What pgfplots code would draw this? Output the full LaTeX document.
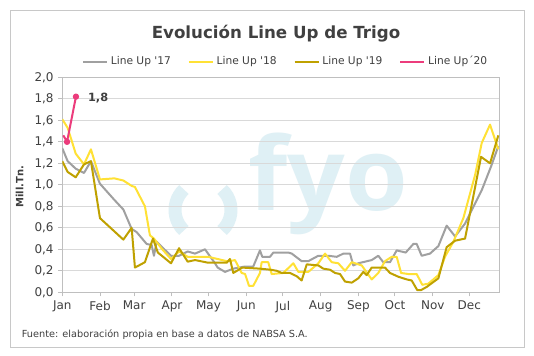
\documentclass[border=0pt]{standalone}
\usepackage{fontspec}
\setmainfont{DejaVu Sans}[Ligatures=TeXOff]
\newfontfamily\wmfont{Open Sans}
\usepackage{pgfplots}
\pgfplotsset{compat=1.18}
\definecolor{c17}{HTML}{A0A0A0}
\definecolor{c18}{HTML}{FFE135}
\definecolor{c19}{HTML}{BFA100}
\definecolor{c20}{HTML}{EC3C7C}
\definecolor{textgray}{HTML}{404040}
\definecolor{boxgray}{HTML}{BFBFBF}
\definecolor{gridgray}{HTML}{D9D9D9}
\definecolor{framegray}{HTML}{C8C8C8}
\definecolor{wm}{HTML}{DFF0F5}
\pgfplotsset{
  mylegimg/.style={legend image code/.code={\draw[##1,line width=1.5pt] (0pt,0pt) -- (18pt,0pt);}}
}
\begin{document}
\begin{tikzpicture}[x=0.75pt,y=0.75pt]
\path[use as bounding box] (0,0) rectangle (534,355);
\fill[white] (0,0) rectangle (534,355);
\draw[framegray, line width=0.75pt] (10,8) rectangle (524,345);
% watermark
\draw[wm, line width=9.75pt] (203,145) ++(133:28) arc[start angle=133, end angle=227, radius=28];
\draw[wm, line width=9.75pt] (203,145) ++(-47:28) arc[start angle=-47, end angle=47, radius=28];
\node[anchor=base west, inner sep=0pt, text=wm, font=\wmfont\bfseries\fontsize{76}{76}\selectfont] at (248,145) {fyo};
\begin{axis}[
  at={(46.725pt,47.025pt)}, anchor=south west,
  width=327.75pt, height=161.25pt, scale only axis,
  xmin=0, xmax=358.6, ymin=0, ymax=2,
  xtick={0,31,59,90,120,151,181,212,243,273,304,334},
  xticklabels={Jan,Feb,Mar,Apr,May,Jun,Jul,Aug,Sep,Oct,Nov,Dec},
  ytick={0,0.2,0.4,0.6,0.8,1,1.2,1.4,1.6,1.8,2},
  /pgf/number format/.cd, fixed, fixed zerofill, precision=1, use comma, assume math mode=true,
  /pgfplots/.cd,
  tick pos=left, tick align=outside, major tick length=3pt,
  tick style={draw=boxgray, line width=0.75pt},
  axis line style={draw=boxgray, line width=0.75pt},
  ymajorgrids, grid style={draw=gridgray, line width=0.75pt},
  ticklabel style={font=\fontsize{9}{10}\selectfont, text=textgray},
  mylegimg,
  legend columns=4,
  legend style={at={(0.512,1.073)}, anchor=center, draw=none, fill=none,
    font=\fontsize{8}{9}\selectfont, text=textgray, inner sep=0pt,
    /tikz/every even column/.append style={column sep=10.75pt}},
]
\addplot[c17, line width=1.5pt, line join=round] coordinates {
(0,1.34)(4.4,1.22)(11,1.15)(17.8,1.11)(23.5,1.22)(30.9,1.01)(42.7,0.86)(50.1,0.77)(56.9,0.59)(61,0.56)(69.2,0.45)(73.3,0.44)(75.2,0.34)(77.4,0.47)(89.2,0.34)(95.8,0.34)(102.9,0.38)(108.9,0.36)(117.1,0.40)(125.3,0.27)(127.5,0.23)(133.5,0.19)(140.3,0.22)(149.9,0.24)(156.7,0.24)(162.2,0.39)(164.1,0.33)(170.4,0.33)(173.2,0.37)(185.5,0.37)(188.3,0.36)(196.4,0.29)(201.9,0.29)(210.1,0.34)(218.3,0.34)(225.2,0.33)(230.6,0.36)(236.1,0.36)(238.8,0.25)(242.9,0.27)(253.9,0.30)(259.3,0.34)(263.4,0.28)(268.9,0.28)(274.4,0.39)(281.8,0.37)(288.1,0.45)(290.8,0.45)(294.9,0.34)(301.7,0.36)(308.6,0.43)(315.4,0.62)(322.3,0.52)(330.5,0.64)(344.2,0.95)(351.8,1.17)(357.8,1.36)
};
\addlegendentry{Line Up '17}
\addplot[c18, line width=1.5pt, line join=round] coordinates {
(0,1.61)(4.4,1.53)(11,1.29)(17.8,1.19)(23.5,1.33)(30.9,1.05)(42.7,1.06)(50.1,1.04)(56.9,0.99)(59.6,0.98)(67.8,0.80)(71.9,0.53)(75.2,0.50)(82,0.40)(89.2,0.31)(95.8,0.38)(102.9,0.33)(119.8,0.33)(134.9,0.29)(137.6,0.29)(141.7,0.30)(147.2,0.18)(150,0.17)(153.2,0.06)(156.7,0.06)(162.2,0.18)(163.6,0.28)(169,0.28)(171.8,0.17)(181.3,0.18)(189.6,0.27)(193.7,0.19)(201.9,0.19)(210.1,0.27)(215.6,0.36)(221.1,0.28)(226.5,0.27)(232,0.20)(237.5,0.28)(245.7,0.25)(253.9,0.12)(259.3,0.18)(264.8,0.29)(270.3,0.33)(274.4,0.33)(278,0.18)(284,0.17)(290.8,0.17)(295.4,0.07)(300.3,0.08)(308.6,0.16)(314,0.33)(320.9,0.47)(329.1,0.69)(338.7,1.09)(344.2,1.39)(351,1.56)(357.8,1.33)
};
\addlegendentry{Line Up '18}
\addplot[c19, line width=1.5pt, line join=round] coordinates {
(0,1.22)(4.4,1.12)(11,1.07)(17.8,1.19)(23.5,1.22)(30.9,0.69)(50.1,0.49)(56.9,0.60)(59.6,0.23)(67.8,0.28)(74.4,0.50)(78.4,0.37)(89.2,0.27)(95.8,0.41)(102.9,0.285)(108.9,0.30)(119.8,0.275)(134.9,0.275)(137.6,0.31)(140.3,0.18)(147.7,0.23)(162.2,0.22)(171,0.21)(176,0.20)(180,0.18)(186.8,0.18)(192.3,0.15)(196.4,0.11)(200.6,0.26)(210.1,0.25)(214.2,0.22)(219.7,0.21)(223.8,0.18)(227.9,0.17)(232,0.10)(237.5,0.09)(242.9,0.13)(247,0.19)(249.8,0.16)(253.9,0.23)(264.8,0.23)(268.9,0.18)(275.7,0.145)(282.6,0.12)(286.7,0.11)(291.3,0.02)(294.3,0.02)(299,0.05)(308.6,0.13)(315.4,0.42)(322.3,0.48)(330.5,0.50)(343.6,1.26)(351,1.20)(357.8,1.46)
};
\addlegendentry{Line Up '19}
\addplot[c20, line width=1.5pt, line join=round, mark=*, mark size=1.6pt, mark indices={2,3}] coordinates {
(0.8,1.46)(3.9,1.40)(11.2,1.82)
} node[pos=1, anchor=west, xshift=5pt, yshift=-1pt, font=\bfseries\fontsize{8.5}{10}\selectfont, text=textgray] {1,8};
\addlegendentry{Line Up´20}
\end{axis}
\node[font=\bfseries\fontsize{12.5}{14}\selectfont, text=textgray] at (276,321) {Evolución Line Up de Trigo};
\node[rotate=90, font=\bfseries\fontsize{7.5}{9}\selectfont, text=textgray] at (19.5,168.3) {Mill.Tn.};
\node[anchor=west, inner sep=0pt, font=\fontsize{7.3}{9}\selectfont, text=textgray] at (21.6,20.2) {Fuente: elaboración propia en base a datos de NABSA S.A.};
\end{tikzpicture}
\end{document}
